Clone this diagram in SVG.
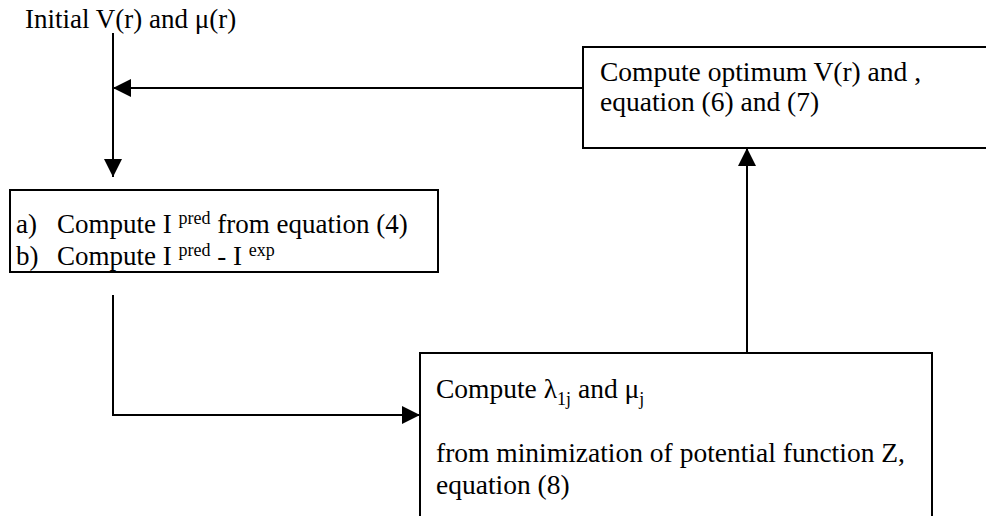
<svg xmlns="http://www.w3.org/2000/svg" width="986" height="516" viewBox="0 0 986 516">
<style>
.t{font-family:"Liberation Serif","Times New Roman",serif;font-size:27.5px;fill:#000}
.s{font-size:18px}
.box{fill:#fff;stroke:#000;stroke-width:2}
.ln{fill:none;stroke:#000;stroke-width:2}
</style>
<defs>
<marker id="ah" markerUnits="userSpaceOnUse" markerWidth="18" markerHeight="18" refX="18" refY="9" orient="auto"><path d="M0,0 L18,9 L0,18 z" fill="#000"/></marker>
</defs>
<g id="connectors">
<path class="ln" d="M113,33 V177" marker-end="url(#ah)"/>
<path class="ln" d="M583,88 H113" marker-end="url(#ah)"/>
<path class="ln" d="M747,353 V148" marker-end="url(#ah)"/>
<path class="ln" d="M113,295 V415 H420" marker-end="url(#ah)"/>
</g>
<g id="start">
<text class="t" x="25" y="28" style="font-size:27px">Initial V(r) and μ(r)</text>
</g>
<g id="compute-pred">
<rect class="box" x="10" y="190" width="428" height="82"/>
<text class="t" x="16" y="233" style="font-size:27px">a)<tspan x="57">Compute I </tspan><tspan class="s" dy="-9">pred</tspan><tspan dy="9"> from equation (4)</tspan></text>
<text class="t" x="16" y="265" style="font-size:27px">b)<tspan x="57">Compute I </tspan><tspan class="s" dy="-9">pred</tspan><tspan dy="9"> - I </tspan><tspan class="s" dy="-9">exp</tspan></text>
</g>
<g id="compute-optimum">
<rect class="box" x="583" y="47" width="420" height="101"/>
<text class="t" x="600" y="81">Compute optimum V(r) and ,</text>
<text class="t" x="600" y="111">equation (6) and (7)</text>
</g>
<g id="compute-lambda">
<rect class="box" x="420" y="353" width="512" height="190"/>
<text class="t" x="436" y="398">Compute λ<tspan class="s" dy="7">1j</tspan><tspan dy="-7"> and μ</tspan><tspan class="s" dy="7">j</tspan></text>
<text class="t" x="436" y="462">from minimization of potential function Z,</text>
<text class="t" x="436" y="494">equation (8)</text>
</g>
</svg>
